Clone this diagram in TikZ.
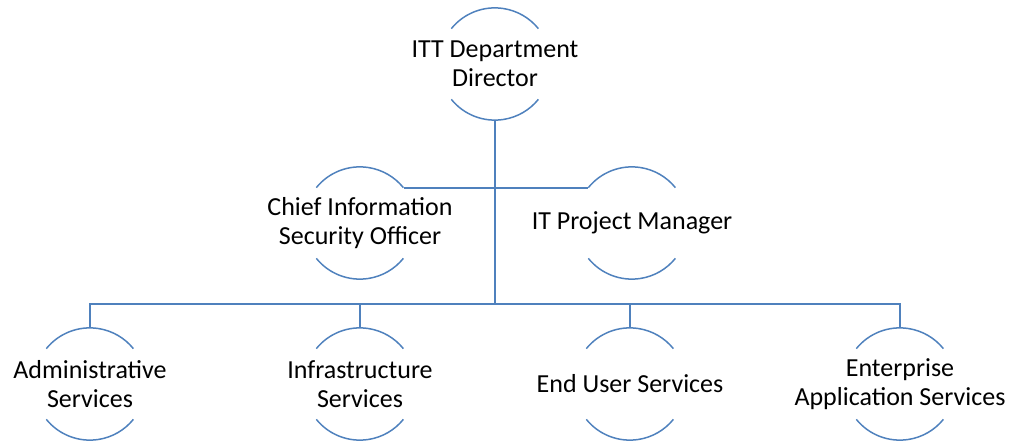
\documentclass[tikz,border=0pt]{standalone}
\usepackage{fontspec}
\setmainfont{Carlito}
\definecolor{ln}{HTML}{4F81BD}
\begin{document}
\begin{tikzpicture}[x=1pt,y=-1pt,
  circ/.style={circle,draw=none,minimum size=112pt,inner sep=0pt},
  lbl/.style={align=center,font=\fontsize{26}{29}\selectfont,inner sep=0pt},
  arcline/.style={draw=ln,line width=1.5pt},
  conn/.style={draw=ln,line width=2pt}]
\useasboundingbox (0,0) rectangle (1011,443);
% circles (invisible shapes, arcs drawn below)
\node[circ] (c0) at (495,64) {};
\node[circ] (c1) at (360,223) {};
\node[circ] (c2) at (632,223) {};
\node[circ] (c3) at (90,384) {};
\node[circ] (c4) at (360,384) {};
\node[circ] (c5) at (630,384) {};
\node[circ] (c6) at (900,384) {};
\foreach \n in {c0,c1,c2,c3,c4,c5,c6}{
  \draw[arcline] (\n.141) arc[start angle=141,end angle=39,radius=56pt];
  \draw[arcline] (\n.-141) arc[start angle=-141,end angle=-39,radius=56pt];
}
% labels
\node[lbl] (t0) at (c0) {ITT Department\\Director};
\node[lbl] (t1) at (c1) {Chief Information\\Security Officer};
\node[lbl] (t2) at (c2) {IT Project Manager};
\node[lbl] (t3) at (c3) {Administrative\\Services};
\node[lbl] (t4) at (c4) {Infrastructure\\Services};
\node[lbl] (t5) at (c5) {End User Services};
\node[lbl] (t6) at (c6) {Enterprise\\Application Services};
% connectors
\coordinate (bar) at (495,304);
\draw[conn] (c1.39) -- (c2.141);
\draw[conn] (c0.south) -- (bar);
\draw[conn] (c3.north) -- (c3.north |- bar) -- (c6.north |- bar) -- (c6.north);
\draw[conn] (c4.north) -- (c4.north |- bar);
\draw[conn] (c5.north) -- (c5.north |- bar);
\end{tikzpicture}
\end{document}
